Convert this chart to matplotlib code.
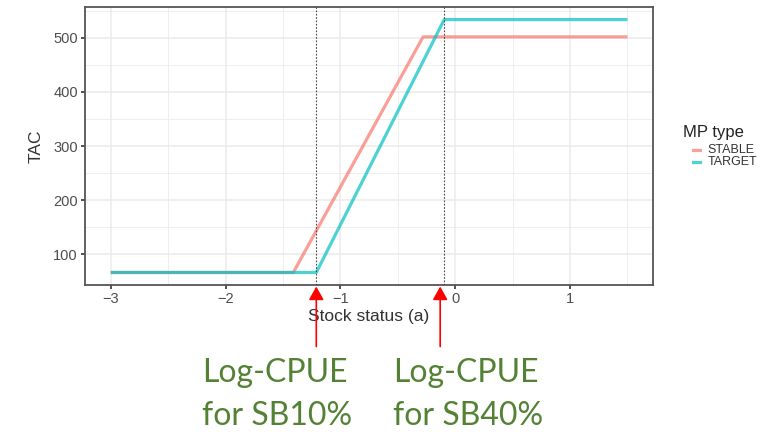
import matplotlib.pyplot as plt

plt.rcParams["font.family"] = ["Liberation Sans", "DejaVu Sans"]

# harvest control rule breakpoints (stock status, TAC)
stable_x = [-3.0, -1.41, -0.28, 1.5]
stable_tac = [66, 66, 502, 502]
target_x = [-3.0, -1.21, -0.096, 1.5]
target_tac = [66, 66, 534, 534]

# log-CPUE reference points
ref_points = [-1.21, -0.096]
ref_line1 = ["Log-CPUE", "Log-CPUE"]
ref_line2 = ["for SB10%", "for SB40%"]

x_ticks = [-3, -2, -1, 0, 1]
y_ticks = [100, 200, 300, 400, 500]

pink = "#F8766D"
cyan = "#00BFC4"
grid_col = "#EBEBEB"

fig = plt.figure(figsize=(7.65, 4.32), dpi=100)
ax = fig.add_axes([0.111, 0.340, 0.743, 0.644])

ax.plot(stable_x, stable_tac, color=pink, lw=2.3, alpha=0.7, solid_capstyle="butt", zorder=3)
ax.plot(target_x, target_tac, color=cyan, lw=2.3, alpha=0.7, solid_capstyle="butt", zorder=4)

for xv in ref_points:
    ax.axvline(xv, color="#444444", lw=0.8, ls=(0, (1.5, 1.5)), zorder=5)

ax.set_xlim(-3.225, 1.725)
ax.set_ylim(42.6, 557.4)
ax.set_xticks(x_ticks)
ax.set_xticklabels(["\u22123", "\u22122", "\u22121", "0", "1"])
ax.set_yticks(y_ticks)
ax.set_xticks([-2.5, -1.5, -0.5, 0.5, 1.5], minor=True)
ax.set_yticks([150, 250, 350, 450, 550], minor=True)
ax.grid(which="major", color=grid_col, lw=1.1)
ax.grid(which="minor", color=grid_col, lw=0.6)
ax.set_axisbelow(True)
ax.tick_params(which="major", length=3, width=1.2, color="#333333",
               labelsize=10.5, labelcolor="#4D4D4D", pad=2)
ax.tick_params(which="minor", length=0)
for s in ax.spines.values():
    s.set_color("#555555")
    s.set_linewidth(1.3)

ax.set_xlabel("Stock status (a)", fontsize=12.5, color="#333333", labelpad=2)
ax.set_ylabel("TAC", fontsize=12.5, color="#333333", labelpad=7)

# legend drawn by hand so it can run off the right edge
fig.text(0.893, 0.694, "MP type", fontsize=12, color="#222222", va="center")
fig.add_artist(plt.Line2D([0.906, 0.915], [0.652, 0.652], color=pink, lw=2.3, alpha=0.7))
fig.add_artist(plt.Line2D([0.906, 0.915], [0.624, 0.624], color=cyan, lw=2.3, alpha=0.7))
fig.text(0.925, 0.653, "STABLE", fontsize=9, color="#333333", va="center")
fig.text(0.925, 0.624, "TARGET", fontsize=9, color="#333333", va="center")

# arrows from the labels up to the reference lines
arrow_shift = [0.0, -0.035]
text_left = [0.264, 0.514]
for xv, dx, tx, l1, l2 in zip(ref_points, arrow_shift, text_left, ref_line1, ref_line2):
    ax.annotate("", xy=(xv + dx, 40), xycoords="data",
                xytext=(xv + dx, -71), textcoords="data",
                arrowprops=dict(arrowstyle="-|>,head_length=0.8,head_width=0.45",
                                color="red", lw=1.2, shrinkA=0, shrinkB=0),
                annotation_clip=False)
    fig.text(tx, 0.116, l1, fontsize=23, color="#548235", family="Lato", va="baseline")
    fig.text(tx, 0.016, l2, fontsize=23, color="#548235", family="Lato", va="baseline")

fig.savefig("out.png", dpi=100)
